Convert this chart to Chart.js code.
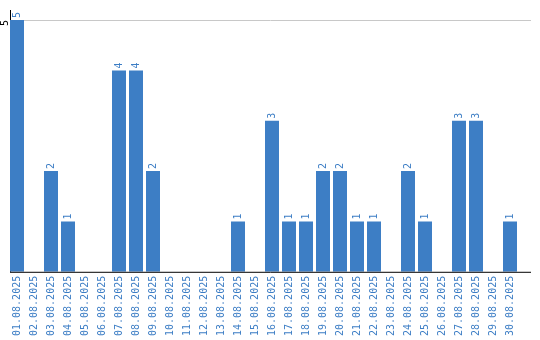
<!DOCTYPE html>
<html>
<head>
<meta charset="utf-8">
<script src="https://cdn.jsdelivr.net/npm/chart.js@4.4.1/dist/chart.umd.min.js"></script>
<style>
  html, body { margin:0; padding:0; background:#fff; }
  #wrap { width:540px; height:340px; position:relative; }
</style>
</head>
<body>
<div id="wrap"><canvas id="chart"></canvas></div>
<script>
// dias de agosto y cantidad por dia
const dias = [
  '01.08.2025','02.08.2025','03.08.2025','04.08.2025','05.08.2025','06.08.2025',
  '07.08.2025','08.08.2025','09.08.2025','10.08.2025','11.08.2025','12.08.2025',
  '13.08.2025','14.08.2025','15.08.2025','16.08.2025','17.08.2025','18.08.2025',
  '19.08.2025','20.08.2025','21.08.2025','22.08.2025','23.08.2025','24.08.2025',
  '25.08.2025','26.08.2025','27.08.2025','28.08.2025','29.08.2025','30.08.2025'
];
const cantidades = [5,0,2,1,0,0,4,4,2,0,0,0,0,1,0,3,1,1,2,2,1,1,0,2,1,0,3,3,0,1];
const yTicks = [5];
const yMax = 5.2;

const AZUL = '#3d7ec5';
const FONT = '10px "DejaVu Sans Mono", monospace';

// lineas de ejes, grilla, etiqueta del eje y y valores sobre las barras
const extras = {
  id: 'extras',
  beforeDatasetsDraw(chart) {
    const {ctx, chartArea: a, scales: {y}} = chart;
    ctx.save();
    ctx.strokeStyle = '#c8c8c8';
    ctx.lineWidth = 1;
    yTicks.forEach(t => {
      const py = Math.round(y.getPixelForValue(t)) + 0.5;
      ctx.beginPath(); ctx.moveTo(a.left + 1.5, py); ctx.lineTo(a.right + 12.5, py); ctx.stroke();
    });
    ctx.strokeStyle = '#000';
    ctx.beginPath(); ctx.moveTo(a.left + 2, a.top); ctx.lineTo(a.left + 2, a.bottom); ctx.stroke();
    ctx.fillStyle = '#000';
    ctx.font = FONT;
    ctx.textAlign = 'right';
    ctx.textBaseline = 'middle';
    yTicks.forEach(t => {
      ctx.save();
      ctx.translate(5, y.getPixelForValue(t));
      ctx.rotate(-Math.PI / 2);
      ctx.fillText(String(t), 0, 0);
      ctx.restore();
    });
    ctx.restore();
  },
  afterDatasetsDraw(chart) {
    const {ctx, chartArea: a} = chart;
    ctx.save();
    ctx.strokeStyle = '#000';
    ctx.lineWidth = 1;
    ctx.beginPath(); ctx.moveTo(a.left + 1.5, a.bottom + 0.5); ctx.lineTo(a.right + 12.5, a.bottom + 0.5); ctx.stroke();
    ctx.fillStyle = AZUL;
    ctx.font = FONT;
    ctx.textAlign = 'left';
    ctx.textBaseline = 'middle';
    chart.getDatasetMeta(0).data.forEach((bar, i) => {
      if (!cantidades[i]) return;
      ctx.save();
      ctx.translate(bar.x, bar.y - 2);
      ctx.rotate(-Math.PI / 2);
      ctx.fillText(String(cantidades[i]), 0, 0);
      ctx.restore();
    });
    ctx.restore();
  }
};

new Chart(document.getElementById('chart'), {
  type: 'bar',
  data: {
    labels: dias,
    datasets: [{
      data: cantidades,
      backgroundColor: AZUL,
      borderWidth: 0,
      barPercentage: 14 / 17,
      categoryPercentage: 1
    }]
  },
  options: {
    responsive: true,
    maintainAspectRatio: false,
    animation: false,
    layout: { padding: { left: 8.5, right: 21.5, top: 10, bottom: 0 } },
    plugins: { legend: { display: false }, tooltip: { enabled: false } },
    scales: {
      x: {
        offset: true,
        grid: { display: false, drawTicks: false },
        border: { display: false },
        ticks: {
          minRotation: 90, maxRotation: 90, autoSkip: false, padding: 4,
          color: AZUL, font: { family: '"DejaVu Sans Mono", monospace', size: 10 }
        }
      },
      y: { display: false, min: 0, max: yMax }
    }
  },
  plugins: [extras]
});
</script>
</body>
</html>
